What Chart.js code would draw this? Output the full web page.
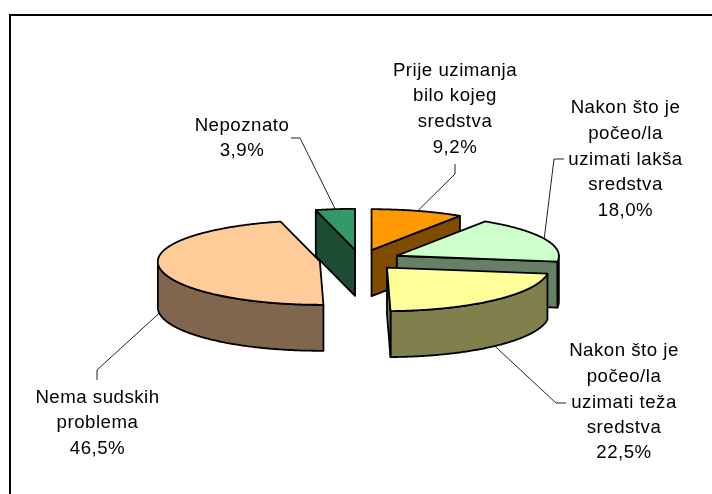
<!DOCTYPE html>
<html>
<head>
<meta charset="utf-8">
<title>Pie</title>
<script src="https://cdn.jsdelivr.net/npm/chart.js@4"></script>
<style>
    html, body { margin: 0; padding: 0; background: #fff; overflow: hidden; }
    canvas { display: block; }
</style>
</head>
<body>
<canvas id="chartJS" width="712" height="494"></canvas>
<script>
// data
const categories = [
    "Prije uzimanja bilo kojeg sredstva",
    "Nakon što je počeo/la uzimati lakša sredstva",
    "Nakon što je počeo/la uzimati teža sredstva",
    "Nema sudskih problema",
    "Nepoznato"
];
const values = [9.2, 18.0, 22.5, 46.5, 3.9];
const topColors = ["#FF9900", "#CCFFCC", "#FFFF99", "#FFCC99", "#339966"];
const sideColors = ["#804D00", "#668066", "#80804D", "#80664D", "#1A4D33"];
const labelLines = [
    ["Prije uzimanja", "bilo kojeg", "sredstva"],
    ["Nakon što je", "počeo/la", "uzimati lakša", "sredstva"],
    ["Nakon što je", "počeo/la", "uzimati teža", "sredstva"],
    ["Nema sudskih", "problema"],
    ["Nepoznato"]
];

// layout of the labels: text centre, baselines, leader elbow and leader end
const labelX = [455, 625.5, 624, 97.5, 242];
const labelY = [
    [76, 101, 127, 153],
    [113, 139, 165, 190, 216],
    [356, 382, 408, 433, 458],
    [403, 428, 454],
    [131, 156]
];
const elbows = [[455, 174], [554, 159], [556, 403], [97, 370], [300, 138]];
const leaderEnds = [[455, 164], [564, 159], [566, 403], [97, 380], [291, 138]];

// tilt of the pie, the near half looks a bit deeper than the far one
const squash = 0.253;
const nearSquash = 0.268;
const depth = 46;
const explode = 40.5;
// back to front
const drawOrder = [0, 4, 1, 3, 2];

const pct = (v) => v.toFixed(1).replace(".", ",") + "%";

const pie3d = {
    id: "pie3d",
    beforeDatasetsDraw(chart) {
        const ctx = chart.ctx;
        const arcs = chart.getDatasetMeta(0).data;

        // where a slice sits once pulled out of the pie
        const slice = (arc) => {
            const mid = (arc.startAngle + arc.endAngle) / 2;
            return {
                x: arc.x + Math.cos(mid) * explode,
                y: arc.y + Math.sin(mid) * explode * squash,
                r: arc.outerRadius
            };
        };
        const rim = (s, a) => {
            const k = Math.sin(a) > 0 ? nearSquash : squash;
            return [s.x + Math.cos(a) * s.r, s.y + Math.sin(a) * s.r * k];
        };
        // walk along the rim from one angle to another
        const traceRim = (s, from, to, dy) => {
            const steps = Math.max(2, Math.ceil(Math.abs(to - from) / 0.01));
            for (let n = 0; n <= steps; n++) {
                const p = rim(s, from + (to - from) * n / steps);
                ctx.lineTo(p[0], p[1] + dy);
            }
        };

        ctx.save();
        ctx.lineJoin = "round";
        ctx.strokeStyle = "#000";
        ctx.lineWidth = 1.8;

        const paint = (fill) => {
            ctx.fillStyle = fill;
            ctx.fill();
            ctx.stroke();
        };
        const cutFace = (s, a, fill) => {
            const p = rim(s, a);
            ctx.beginPath();
            ctx.moveTo(s.x, s.y);
            ctx.lineTo(p[0], p[1]);
            ctx.lineTo(p[0], p[1] + depth);
            ctx.lineTo(s.x, s.y + depth);
            ctx.closePath();
            paint(fill);
        };

        drawOrder.forEach((i) => {
            const arc = arcs[i];
            const s = slice(arc);

            // outer wall, only the part facing us
            const a0 = Math.max(arc.startAngle, 0);
            const a1 = Math.min(arc.endAngle, Math.PI);
            if (a1 > a0) {
                ctx.beginPath();
                traceRim(s, a0, a1, 0);
                traceRim(s, a1, a0, depth);
                ctx.closePath();
                paint(sideColors[i]);
            }

            // cut faces
            if (Math.cos(arc.startAngle) < 0) cutFace(s, arc.startAngle, sideColors[i]);
            if (Math.cos(arc.endAngle) > 0) cutFace(s, arc.endAngle, sideColors[i]);

            // top
            ctx.beginPath();
            ctx.moveTo(s.x, s.y);
            traceRim(s, arc.startAngle, arc.endAngle, 0);
            ctx.closePath();
            paint(arc.options.backgroundColor);
        });

        // leader lines start on the rim at the middle of the slice
        ctx.lineWidth = 1;
        ctx.strokeStyle = "#222";
        arcs.forEach((arc, i) => {
            const mid = (arc.startAngle + arc.endAngle) / 2;
            const p = rim(slice(arc), mid);
            ctx.beginPath();
            ctx.moveTo(p[0], p[1] + (Math.sin(mid) > 0 ? depth : 0));
            ctx.lineTo(elbows[i][0], elbows[i][1]);
            ctx.lineTo(leaderEnds[i][0], leaderEnds[i][1]);
            ctx.stroke();
        });

        // labels
        ctx.fillStyle = "#000";
        ctx.font = '18.67px "Liberation Sans", Arial, sans-serif';
        ctx.letterSpacing = "0.5px";
        ctx.textAlign = "center";
        ctx.textBaseline = "alphabetic";
        values.forEach((v, i) => {
            labelLines[i].concat(pct(v)).forEach((line, j) => {
                ctx.fillText(line, labelX[i], labelY[i][j]);
            });
        });

        // frame, only top and left show in the picture
        ctx.strokeStyle = "#000";
        ctx.lineWidth = 2;
        ctx.lineJoin = "miter";
        ctx.beginPath();
        ctx.moveTo(10, 494);
        ctx.lineTo(10, 15);
        ctx.lineTo(712, 15);
        ctx.stroke();

        ctx.restore();
        return false;
    }
};

new Chart(document.getElementById("chartJS").getContext("2d"), {
    type: "pie",
    data: {
        labels: categories,
        datasets: [{
            data: values,
            backgroundColor: topColors,
            borderWidth: 0
        }]
    },
    options: {
        responsive: false,
        animation: false,
        radius: 162,
        layout: { padding: { left: 8, top: 26, right: 0, bottom: 0 } },
        plugins: {
            legend: { display: false },
            tooltip: { enabled: false }
        }
    },
    plugins: [pie3d]
});
</script>
</body>
</html>
